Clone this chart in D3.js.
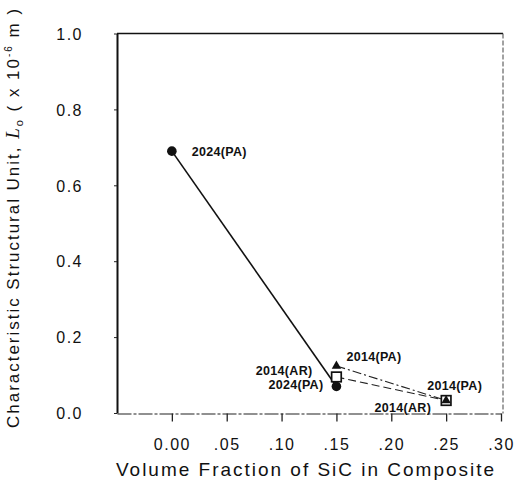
<!DOCTYPE html>
<html lang="en">
<head>
<meta charset="UTF-8">
<title>Characteristic Structural Unit vs SiC</title>
<script src="https://d3js.org/d3.v7.min.js"></script>
<style>
  body { margin: 0; background: #fff; }
  text { font-family: "Liberation Sans", Arial, sans-serif; fill: #111; }
</style>
</head>
<body>
<div id="chart"></div>
<script>
  // values
  const sic2024 = [0.00, 0.15];
  const lo2024PA = [0.69, 0.07];
  const sic2014 = [0.15, 0.25];
  const lo2014PA = [0.124, 0.033];
  const lo2014AR = [0.095, 0.033];
  const xTicks = [0.00, 0.05, 0.10, 0.15, 0.20, 0.25, 0.30];
  const xTickLabels = ["0.00", ".05", ".10", ".15", ".20", ".25", ".30"];
  const yTicks = [0.0, 0.2, 0.4, 0.6, 0.8, 1.0];

  const width = 514, height = 492;
  const svg = d3.select('#chart').append('svg')
    .attr('width', width).attr('height', height);
  svg.append('rect').attr('width', width).attr('height', height).attr('fill', '#fff');

  const x = d3.scaleLinear().domain([-0.05, 0.30]).range([117, 501]);
  const y = d3.scaleLinear().domain([0, 1]).range([413, 33.5]);
  const plotLeft = 117, plotRight = 503, plotTop = 33.5, plotBottom = 413.5;

  // frame
  svg.append('line').attr('x1', plotLeft).attr('x2', plotRight).attr('y1', plotTop).attr('y2', plotTop)
    .attr('stroke', '#111').attr('stroke-width', 1.6);
  svg.append('line').attr('x1', plotRight).attr('x2', plotRight).attr('y1', plotTop).attr('y2', plotBottom)
    .attr('stroke', '#444').attr('stroke-width', 1).attr('stroke-dasharray', '5 2');

  // x axis
  const xAxis = svg.append('g').attr('transform', `translate(0,${plotBottom})`)
    .call(d3.axisBottom(x).tickValues(xTicks).tickSize(8).tickSizeOuter(0)
      .tickFormat((d, i) => xTickLabels[i]));
  xAxis.select('.domain').attr('stroke', '#222').attr('stroke-width', 1.1)
    .attr('stroke-dasharray', '14 2 3 2');
  xAxis.selectAll('.tick line').attr('stroke', '#222').attr('stroke-width', 1.3);
  xAxis.selectAll('.tick text')
    .attr('dy', null).attr('y', 36)
    .style('font-size', '16px').style('letter-spacing', '1.5px')
    .style('font-family', '"Liberation Sans", Arial, sans-serif').attr('fill', '#111');

  // y axis
  const yAxis = svg.append('g').attr('transform', `translate(${plotLeft},0)`)
    .call(d3.axisLeft(y).tickValues(yTicks).tickSize(3).tickSizeOuter(0)
      .tickFormat(d3.format('.1f')));
  yAxis.select('.domain').attr('stroke', '#111').attr('stroke-width', 2);
  yAxis.selectAll('.tick line').attr('stroke', '#222');
  yAxis.selectAll('.tick text')
    .attr('x', -34).attr('dy', '0.36em')
    .style('font-size', '16px').style('letter-spacing', '1.5px')
    .style('font-family', '"Liberation Sans", Arial, sans-serif').attr('fill', '#111');

  // axis titles
  function fitText(sel, target) {
    const n = sel.text().length;
    const len = sel.node().getComputedTextLength();
    sel.style('letter-spacing', ((target - len) / n) + 'px');
  }
  const xTitle = svg.append('text').attr('x', 116).attr('y', 476)
    .style('font-size', '19px').text('Volume Fraction of SiC in Composite');
  fitText(xTitle, 380);

  const yTitle = svg.append('text')
    .attr('transform', 'translate(19,428) rotate(-90)')
    .style('font-size', '17px');
  yTitle.append('tspan').text('Characteristic Structural Unit,  ');
  yTitle.append('tspan').style('font-family', '"Liberation Serif", serif')
    .style('font-style', 'italic').style('font-size', '19px').text('L');
  yTitle.append('tspan').attr('dy', 4).style('font-size', '11px').text('o');
  yTitle.append('tspan').attr('dy', -4).text('  ( x 10');
  yTitle.append('tspan').attr('dy', -7).style('font-size', '10px').text('-6');
  yTitle.append('tspan').attr('dy', 7).text(' m )');
  fitText(yTitle, 425);

  // series lines
  const line = d3.line().x(d => x(d[0])).y(d => y(d[1]));
  svg.append('path').datum(d3.zip(sic2024, lo2024PA)).attr('d', line)
    .attr('fill', 'none').attr('stroke', '#111').attr('stroke-width', 1.6);
  svg.append('path').datum(d3.zip(sic2014, lo2014PA)).attr('d', line)
    .attr('fill', 'none').attr('stroke', '#222').attr('stroke-width', 1.1)
    .attr('stroke-dasharray', '9 3 2 3');
  svg.append('path').datum(d3.zip(sic2014, lo2014AR)).attr('d', line)
    .attr('fill', 'none').attr('stroke', '#222').attr('stroke-width', 1.1)
    .attr('stroke-dasharray', '8 4');

  // markers
  svg.selectAll('circle.pa2024').data(d3.zip(sic2024, lo2024PA)).enter()
    .append('circle').attr('class', 'pa2024')
    .attr('cx', d => x(d[0])).attr('cy', d => y(d[1])).attr('r', 4.8).attr('fill', '#111');
  svg.selectAll('rect.ar2014').data(d3.zip(sic2014, lo2014AR)).enter()
    .append('rect').attr('class', 'ar2014')
    .attr('x', d => x(d[0]) - 4.8).attr('y', d => y(d[1]) - 4.8)
    .attr('width', 9.6).attr('height', 9.6)
    .attr('fill', '#fff').attr('stroke', '#111').attr('stroke-width', 1.7);
  svg.selectAll('path.pa2014').data(d3.zip(sic2014, lo2014PA)).enter()
    .append('path').attr('class', 'pa2014')
    .attr('d', d3.symbol().type(d3.symbolTriangle).size(38))
    .attr('transform', d => `translate(${x(d[0])},${y(d[1])})`)
    .attr('fill', '#111');

  // point labels
  const labels = [
    { text: '2024(PA)', xs: sic2024, ys: lo2024PA, i: 0, dx: 20, dy: 5, anchor: 'start' },
    { text: '2024(PA)', xs: sic2024, ys: lo2024PA, i: 1, dx: -13, dy: 3, anchor: 'end' },
    { text: '2014(PA)', xs: sic2014, ys: lo2014PA, i: 0, dx: 10, dy: -4.5, anchor: 'start' },
    { text: '2014(AR)', xs: sic2014, ys: lo2014AR, i: 0, dx: -24, dy: -1.5, anchor: 'end' },
    { text: '2014(PA)', xs: sic2014, ys: lo2014PA, i: 1, dx: -19, dy: -10.5, anchor: 'start' },
    { text: '2014(AR)', xs: sic2014, ys: lo2014AR, i: 1, dx: -15, dy: 11.5, anchor: 'end' }
  ];
  svg.selectAll('text.pt').data(labels).enter().append('text').attr('class', 'pt')
    .attr('x', d => x(d.xs[d.i]) + d.dx).attr('y', d => y(d.ys[d.i]) + d.dy)
    .attr('text-anchor', d => d.anchor)
    .style('font-size', '12.5px').style('font-weight', 'bold').style('letter-spacing', '0.3px')
    .text(d => d.text);
</script>
</body>
</html>
